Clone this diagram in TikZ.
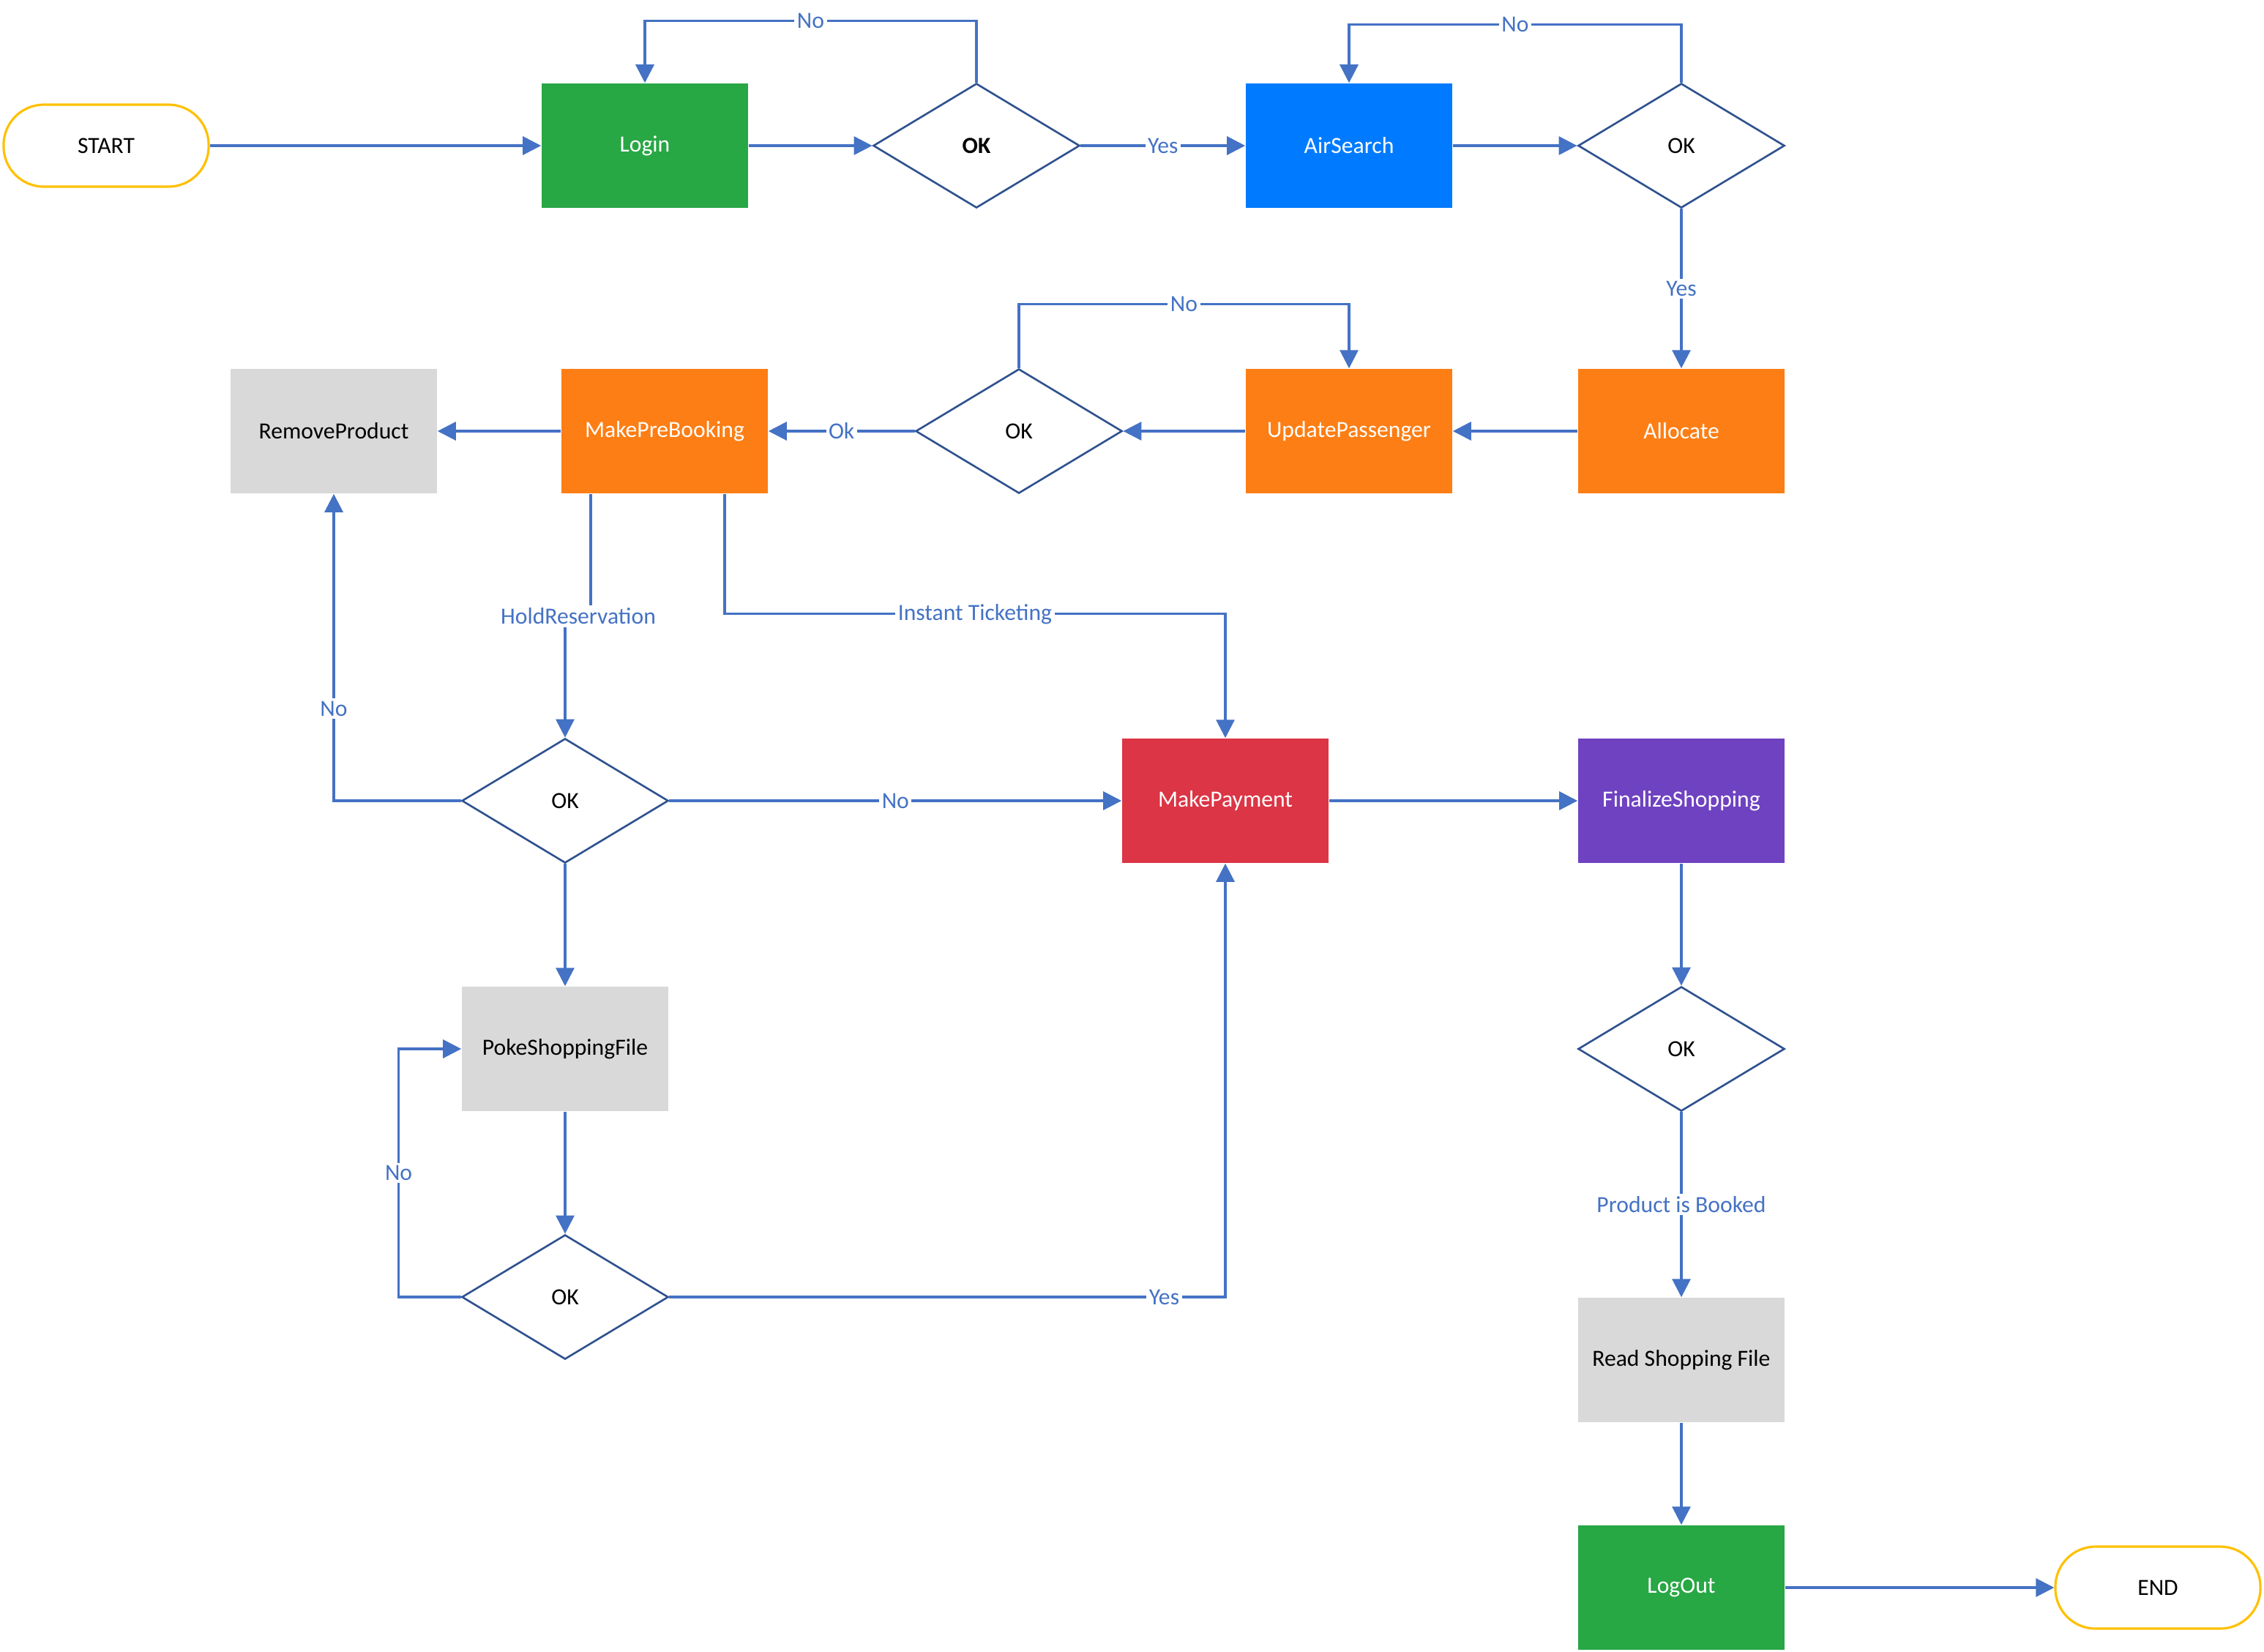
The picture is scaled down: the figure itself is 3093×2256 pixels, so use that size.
\documentclass[tikz,border=0pt]{standalone}
\usepackage{fontspec}
\setmainfont{Carlito}
\usetikzlibrary{shapes.geometric,arrows.meta,calc}
\definecolor{lineblue}{HTML}{4472C4}
\definecolor{diamondblue}{HTML}{2F528F}
\definecolor{termyellow}{HTML}{FFC000}
\definecolor{cgreen}{HTML}{28A745}
\definecolor{cblue}{HTML}{007BFF}
\definecolor{corange}{HTML}{FD7E14}
\definecolor{cred}{HTML}{DC3545}
\definecolor{cpurple}{HTML}{6F42C1}
\definecolor{cgray}{HTML}{D9D9D9}
\begin{document}
\begin{tikzpicture}[x=0.01cm,y=-0.01cm,font=\fontsize{9}{11}\selectfont,
  box/.style={rectangle,minimum width=2.82cm,minimum height=1.70cm,inner sep=0pt,text=white},
  graybox/.style={box,fill=cgray,text=black},
  dec/.style={diamond,draw=diamondblue,line width=0.75pt,minimum width=2.82cm,minimum height=1.70cm,inner sep=0pt,aspect=1.66,fill=white},
  term/.style={rectangle,rounded corners=0.55cm,draw=termyellow,line width=0.9pt,minimum width=2.80cm,minimum height=1.12cm,fill=white},
  arr/.style={draw=lineblue,line width=0.9pt,-{Triangle[length=0.25cm,width=0.25cm]}},
  lbl/.style={fill=white,text=lineblue,inner sep=1pt}]
\useasboundingbox (0,0) rectangle (3093,2256);

\node[term] (start) at (145,199) {START};
\node[box,fill=cgreen] (login) at (881,199) {Login};
\node[dec] (ok1) at (1334,199) {\bfseries OK};
\node[box,fill=cblue] (air) at (1843,199) {AirSearch};
\node[dec] (ok2) at (2297,199) {OK};
\node[box,fill=corange] (alloc) at (2297,589) {Allocate};
\node[box,fill=corange] (upd) at (1843,589) {UpdatePassenger};
\node[dec] (ok3) at (1392,589) {OK};
\node[box,fill=corange] (mpb) at (908,589) {MakePreBooking};
\node[graybox] (rem) at (456,589) {RemoveProduct};
\node[dec] (ok4) at (772,1094) {OK};
\node[box,fill=cred] (pay) at (1674,1094) {MakePayment};
\node[box,fill=cpurple] (fin) at (2297,1094) {FinalizeShopping};
\node[graybox] (poke) at (772,1433) {PokeShoppingFile};
\node[dec] (ok5) at (772,1772) {OK};
\node[dec] (ok6) at (2297,1433) {OK};
\node[graybox] (read) at (2297,1858) {Read Shopping File};
\node[box,fill=cgreen] (logout) at (2297,2169) {LogOut};
\node[term] (end) at (2948,2169) {END};

\draw[arr] (start) -- (login);
\draw[arr] (login) -- (ok1);
\draw[arr] (ok1.north) -- ++(0,-84) -| node[lbl,pos=0.25]{No} (login.north);
\draw[arr] (ok1) -- node[lbl]{Yes} (air);
\draw[arr] (air) -- (ok2);
\draw[arr] (ok2.north) -- ++(0,-79) -| node[lbl,pos=0.25]{No} (air.north);
\draw[arr] (ok2) -- node[lbl]{Yes} (alloc);
\draw[arr] (alloc) -- (upd);
\draw[arr] (upd) -- (ok3);
\draw[arr] (ok3.north) -- ++(0,-87) -| node[lbl,pos=0.25]{No} (upd.north);
\draw[arr] (ok3) -- node[lbl]{Ok} (mpb);
\draw[arr] (mpb) -- (rem);
\draw[arr] ($(mpb.south)+(-101,0)$) -- ++(0,169) -- ++(-35,0) -- (ok4.north);
\node[lbl] (hold) at (790,842) {HoldReservation};
\draw[arr] ($(mpb.south)+(82,0)$) -- ++(0,164) -| node[lbl,pos=0.25]{Instant Ticketing} (pay.north);
\draw[arr] (ok4.west) -| node[lbl,pos=0.65]{No} (rem.south);
\draw[arr] (ok4) -- node[lbl]{No} (pay);
\draw[arr] (ok4) -- (poke);
\draw[arr] (pay) -- (fin);
\draw[arr] (poke) -- (ok5);
\draw[arr] (ok5.west) -- ++(-85,0) |- node[lbl,pos=0.25]{No} (poke.west);
\draw[arr] (ok5.east) -| node[lbl,pos=0.445]{Yes} (pay.south);
\draw[arr] (fin) -- (ok6);
\draw[arr] (ok6) -- node[lbl]{Product is Booked} (read);
\draw[arr] (read) -- (logout);
\draw[arr] (logout) -- (end);
\end{tikzpicture}
\end{document}
